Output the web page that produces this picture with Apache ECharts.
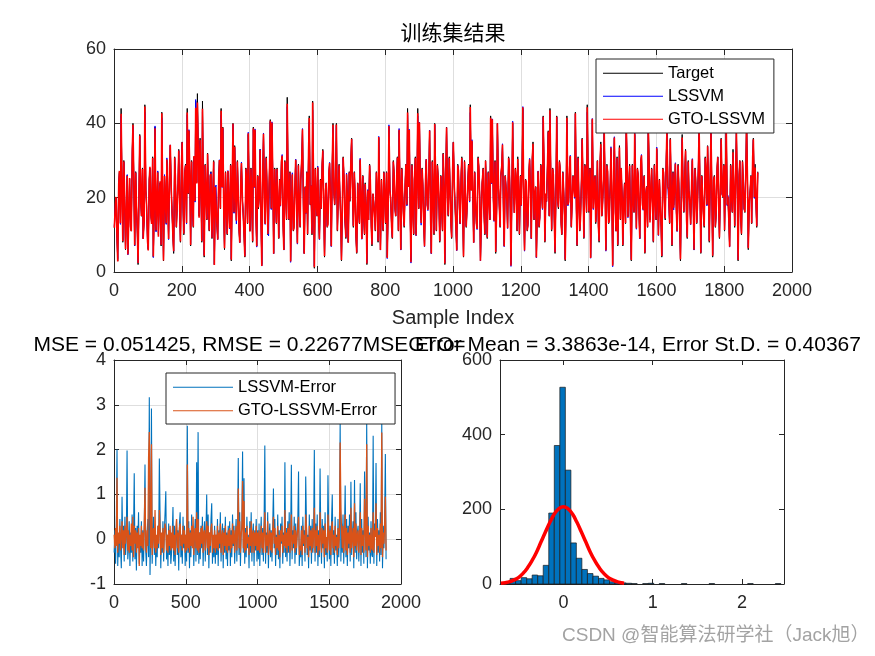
<!DOCTYPE html>
<html><head><meta charset="utf-8">
<script src="https://cdn.jsdelivr.net/npm/echarts@6/dist/echarts.min.js"></script>
<style>html,body{margin:0;padding:0;background:#fff}#c{width:875px;height:656px}</style>
</head><body><div id="c"></div>
<script>
// Main samples are read at indices 1, 6, 11, ... (every sampleStep);
// the *Mid arrays hold the samples read in between, at 4, 9, 14, ...
const sampleStep = 5;
const midOffset = 3;

const target = [
12,20,3,27,44,8,22,14,5,25,11,40,7,19,2,37,15,9,45,18,
6,28,13,4,39,16,10,24,43,3,21,30,9,34,17,5,26,12,33,8,
35,10,29,44,38,7,20,31,46,48,15,25,46,4,22,32,11,27,18,2,
23,9,30,44,39,6,19,27,12,3,40,34,14,22,8,29,16,4,25,37,
11,20,39,38,7,17,33,2,37,13,24,10,41,40,5,21,28,9,18,31,
6,22,47,14,3,26,12,30,8,19,25,38,5,16,10,42,23,46,1,20,
28,9,17,33,4,24,13,29,7,40,18,40,11,22,3,31,15,26,8,19,
36,12,21,5,18,30,9,16,24,2,14,25,7,19,11,22,36,6,17,27,
13,4,39,20,9,27,15,31,38,6,22,12,29,44,38,3,18,25,10,44,
40,14,23,7,30,17,38,5,21,40,11,26,8,19,32,2,39,15,24,9,
35,18,6,27,13,31,4,22,16,29,45,35,8,20,12,28,3,24,17,30,
9,21,42,41,14,5,40,19,26,34,7,23,12,29,2,40,16,25,31,10,
18,44,6,24,13,30,9,35,20,4,27,15,22,42,8,19,38,44,11,26,
5,42,17,28,10,23,3,42,19,31,12,25,43,7,21,14,36,9,27,45,
16,4,41,22,13,30,8,35,18,38,6,27,14,33,2,36,11,7,34,28,
7,24,40,15,29,3,20,37,12,26,9,31,17,5,23,41,14,28,8,21,
33,10,19,4,27,14,38,22,36,7,18,29,11,24,3,37,16,33,9,22,
13,30,6,25,17,39,5,21,12,28,34,8,40,4,26,15,31,9,36,20,
11,40,20,7,22,33,12,38,3,30,10,25,16,42,6,21,13,36,29,12
];
const targetMid = [
18,9,24,13,20,30,6,26,16,12,33,21,27,10,23,19,28,14,22,8,
25,15,31,19,11,27,21,7,17,26,13,18,28,22,9,31,12,24,16,29,
17,27,13,21,25,30,12,19,24,31,36,8,20,29,14,18,26,9,30,23,
12,26,17,23,15,27,10,18,29,25,16,20,30,11,24,19,9,28,13,20,
28,8,23,14,26,21,12,27,19,31,10,29,17,22,28,13,18,25,30,12,
30,14,21,27,19,11,24,17,29,12,31,16,23,27,33,18,10,22,28,15,
13,25,29,16,22,12,27,18,30,21,26,11,29,14,20,24,9,18,27,31,
20,27,9,24,13,19,26,10,17,22,29,12,21,15,27,8,18,25,11,20,
27,19,22,12,30,17,26,11,20,28,15,24,18,23,14,29,10,31,25,17,
21,28,12,25,18,27,14,30,10,24,29,17,26,11,22,27,20,31,13,28,
23,11,29,17,26,15,30,12,25,19,22,18,27,13,31,20,16,28,10,21,
27,14,24,20,30,18,23,12,29,16,26,19,31,17,24,21,28,11,20,26,
29,16,25,11,27,20,31,14,23,18,12,29,17,26,21,30,15,22,28,13,
24,19,30,13,27,15,22,18,28,12,26,20,17,31,11,25,22,29,16,23,
28,21,17,26,19,12,30,15,25,21,29,13,24,18,27,16,31,22,14,20,
19,13,27,24,11,29,16,23,28,15,30,18,26,21,12,27,22,17,29,14,
21,25,12,28,18,30,23,13,20,27,24,16,29,12,26,21,27,14,30,18,
24,17,28,13,29,20,26,15,31,18,22,27,19,25,12,28,17,24,21,29,
27,18,13,29,16,21,27,20,26,14,30,17,28,23,19,26,31,20,18,27
];

const lssvmPred = [
12.3,19.8,3.6,26.7,42,8.6,21.9,14.4,4.6,25.2,11.7,39.1,7.1,18.7,2.5,36.5,15.4,9,43,18.5,
6.2,27.6,13.6,3.9,39.3,15.5,10.5,23.9,41.5,3.5,20.8,30.7,8.7,34.2,16.4,5.6,26,12.3,32.6,8.6,
34.8,10.5,28.7,42.3,38.3,7.6,19.9,30.6,46.4,44.8,15.8,24.7,43.1,4.6,21.9,31.5,11.4,26.8,18.6,2,
23.4,8.7,30.2,42.2,38.5,6.7,18.9,27.3,11.6,3.5,39.8,33.4,12.9,22.5,7.9,29.6,15.7,4.4,24.8,37.6,
11.3,19.9,38.3,38.5,6.7,17.6,33,1.6,37.4,12.8,24.7,9.7,40.4,40.4,4.9,21.6,27.5,9.2,17.7,31.6,
5.9,22.5,44.5,14.3,2.6,26.7,11.8,30.4,7.5,19.2,24.7,38.6,5,15.6,10.5,40.3,23.4,43.6,1.6,19.9,
28.5,8.7,17.2,32.5,4.6,23.9,12.6,29.5,6.8,39,18.4,39.5,11.7,21.9,3.3,30.6,14.2,26.6,8,19.4,
35.7,12.6,20.9,5.4,17.6,30.6,8.8,16.2,23.4,2.5,14,24.7,7.7,18.8,11.3,21.5,36.5,5.9,17.6,26.7,
13.3,3.6,39.6,19.8,9.4,26.5,15.2,30.7,38.6,5.9,21.6,12.5,28.8,42.2,38.4,2.4,18.6,25,9.7,42,
40.3,12.6,23.6,6.8,30.4,16.5,38.2,4.9,21.7,39.6,11.3,25.4,8.5,18.9,31.7,2.6,38.8,15.3,23.6,9.5,
34.8,18.5,5.7,27.6,12.9,30.5,4.4,21.8,16.5,28.6,42.9,35.6,7.9,20.3,11.4,28.7,3,23.7,17.4,29.8,
9.5,20.7,40.9,41.2,13.6,5.6,39.9,19.4,25.5,34.5,6.8,23.7,11.7,29.1,1.5,40.6,15.9,25.3,29.3,10.4,
17.8,44.5,5.6,24.3,12.4,30.6,8.9,33.3,20.5,3.8,27.2,14.5,22.6,41.7,8.4,18.9,37.6,42.5,11.6,26.3,
5.4,41.7,17.6,27.5,10.2,22.8,3.5,40.6,18.6,31.4,11.9,25.7,42.5,7.3,20.7,14.6,35.6,9.3,26.9,43,
16.5,3.7,41.3,21.5,13.6,29.8,8.4,33.4,17.9,38.6,5.6,27.2,13.7,33.7,1.4,36.4,11,7.5,32.6,27.8,
7.5,23.7,40.6,14.6,28,3.4,19.8,37.6,11.5,26.3,8.9,31.6,16.6,5.4,22.9,38.4,14.5,27.7,8.3,20.5,
33.6,9.8,17.8,4.4,26.6,14.6,37.7,22.2,35.5,7.5,16.7,29.4,10.9,23.6,3.7,35.7,16.3,32.4,9.5,21.9,
12.7,30.5,5.9,23.8,17.6,38.6,5.3,20.8,12.6,26.5,33.7,8.4,37.4,4.7,25.5,15.3,30.9,9.6,35.6,20.4,
11.4,37.7,20.6,6.7,21.9,31.3,12.6,37.6,3.3,29.8,10.5,24.4,16.4,39.4,6.7,20.7,13.2,35.5,27.1,12.5
];
const lssvmPredMid = [
18.4,8.6,24.3,12.8,20.3,29.6,6.4,26.2,15.7,12.4,32.6,21.3,26.7,10.4,22.8,19.2,27.6,14.3,21.7,8.4,
24.7,15.3,30.6,19.3,10.8,27.2,20.7,7.5,16.8,26.2,12.8,18.3,27.6,22.2,9.4,30.6,12.3,23.7,16.3,28.6,
16.8,27.2,12.9,21.3,24.7,29.6,12.4,18.8,24.2,30.6,35.3,8.5,19.8,28.7,14.3,17.8,26.2,9.4,29.6,22.7,
12.4,25.7,17.3,22.7,15.3,26.6,10.4,17.8,28.6,25.2,15.8,20.3,29.6,11.4,23.7,19.3,9.4,27.6,13.3,19.8,
27.6,8.5,22.7,14.4,25.7,21.2,12.4,26.6,19.3,30.6,10.4,28.7,16.8,22.2,27.6,13.4,17.8,24.7,29.6,12.4,
29.6,14.3,21.2,26.6,18.8,11.4,23.7,17.3,28.6,12.4,30.6,15.8,22.7,26.7,32.5,18.3,10.5,21.7,27.6,15.3,
13.4,24.7,28.6,16.3,21.7,12.4,26.6,17.8,29.6,21.2,25.7,11.4,28.6,14.3,19.8,24.2,9.5,17.8,26.7,30.6,
19.8,26.7,9.4,23.7,13.3,18.8,25.7,10.4,16.8,22.2,28.6,12.4,20.8,15.3,26.7,8.5,17.8,24.7,11.4,19.8,
26.7,18.8,22.2,12.4,29.6,16.8,25.7,11.4,19.8,27.6,15.3,23.7,17.8,23.2,14.3,28.6,10.4,30.6,24.7,17.3,
20.8,27.6,12.4,24.7,17.8,26.7,14.3,29.6,10.5,23.7,28.6,16.8,25.7,11.4,21.7,26.7,19.8,30.6,13.4,27.6,
22.7,11.4,28.6,16.8,25.7,15.3,29.6,12.4,24.7,18.8,22.2,17.8,26.7,13.3,30.6,19.8,16.3,27.6,10.4,20.8,
26.7,14.3,23.7,19.8,29.6,17.8,22.7,12.4,28.6,16.3,25.7,18.8,30.6,16.8,23.7,20.8,27.6,11.4,19.8,25.7,
28.6,16.3,24.7,11.4,26.7,19.8,30.6,14.3,22.7,17.8,12.4,28.7,16.8,25.7,20.8,29.6,15.3,21.7,27.6,13.4,
23.7,18.8,29.6,13.4,26.7,15.3,21.7,17.8,27.6,12.4,25.7,19.8,16.8,30.6,11.4,24.7,21.7,28.6,16.3,22.7,
27.6,20.8,16.8,25.7,18.8,12.4,29.6,15.3,24.7,21.2,28.6,13.4,23.7,17.8,26.7,16.3,30.6,21.7,14.3,19.8,
18.8,13.4,26.7,23.7,11.4,28.6,16.3,22.7,27.6,15.3,29.6,17.8,25.7,21.2,12.4,26.7,21.7,16.8,28.6,14.3,
20.8,24.7,12.4,27.6,17.8,29.6,22.7,13.4,19.8,26.7,23.7,16.3,28.6,12.4,25.7,20.8,26.7,14.3,29.6,17.8,
23.7,16.8,27.6,13.4,28.6,19.8,25.7,15.3,30.6,17.8,22.2,26.7,18.8,24.7,12.4,27.6,16.8,23.7,20.8,28.6,
26.7,17.8,13.4,28.6,16.3,20.8,26.7,19.8,25.7,14.3,29.6,16.8,27.6,22.7,18.8,25.7,30.6,19.8,17.8,26.7
];

const gtoLssvmPred = [
11.9,20.2,2.8,27.2,42.6,8.3,21.9,14.1,4.7,25.3,11,39.6,7.2,18.8,2.4,36.7,15.1,8.9,44.5,18.3,
5.8,28.3,12.9,4.2,38.7,16.3,9.5,24.4,42.7,3.1,20.8,30.3,8.9,34.2,16.8,5.6,25.9,12.2,32.7,8.2,
34.9,10.3,28.7,42.9,38.1,7.3,19.8,31.2,44.2,45.6,14.6,25.2,43.9,4.4,21.9,31.8,11.2,26.4,18.3,1.9,
23.2,8.7,30.1,43.4,38.8,6.4,18.9,27.2,11.8,3.3,39.9,33.7,13.8,22.3,7.9,29.3,15.8,4.2,24.7,37.3,
10.9,20.2,38.7,38.3,6.9,17.4,32.8,1.6,37.2,12.9,24.3,9.8,40.7,40.2,4.9,21.3,27.7,9.1,17.8,31.3,
5.9,22.3,45.3,14.2,2.8,26.3,11.9,30.2,7.7,19.2,24.5,38.4,4.9,15.8,10.2,41.4,23.3,45.6,1.3,19.9,
28.2,8.8,17.1,32.7,4.3,23.9,12.8,29.3,6.9,39.6,18.2,39.7,11.4,21.9,3.2,30.8,14.7,26.3,7.9,19.2,
35.8,12.3,20.9,5.2,17.7,30.3,8.9,16.1,23.7,2.3,14,24.8,7.4,18.9,11.2,21.7,36.3,5.9,17.3,26.8,
13.2,3.8,39.3,19.9,9.2,26.7,15.1,30.8,38.3,6,21.7,12.3,28.9,42.9,38.2,2.6,18.3,24.9,9.8,42.7,
40.2,13.2,23.3,6.9,30.3,16.7,38.1,5,21.4,39.8,11.2,25.6,8.3,18.9,31.8,2.3,38.9,15.2,23.7,9.3,
34.9,18.3,5.8,27.3,13,30.7,4.2,21.9,16.3,28.8,44.4,35.3,7.9,20.2,11.6,28.4,3,23.8,17.3,29.9,
9.3,20.8,41.5,41.1,13.8,5.4,40,19.2,25.7,34.3,6.9,23.4,11.8,29.1,1.7,40.3,15.9,25.2,30.4,10.2,
17.9,44.3,5.8,24.2,12.7,30.3,9,34.5,20.3,3.9,27.1,14.7,22.3,41.8,8.2,19,37.8,43.5,11.4,26.2,
5.3,41.8,17.4,27.7,10.1,22.9,3.3,41.5,18.8,31.2,12,25.4,42.7,7.2,20.8,14.3,35.8,9.2,26.9,44.3,
16.3,3.8,41.2,21.7,13.4,29.9,8.3,34.4,18,38.3,5.8,27.1,13.8,33.4,1.7,36.2,11,7.3,33.5,27.9,
7.3,23.8,40.4,14.8,28.6,3.2,19.9,37.3,11.7,26.2,9,31.4,16.8,5.2,22.9,38.8,13.3,27.8,8.2,20.7,
33.3,9.9,18.5,4.3,26.8,14.4,37.9,22.1,35.7,7.3,17.3,29.2,11,23.8,3.4,36.2,16.2,32.7,9.3,21.9,
12.8,30.3,6,24.4,17.4,38.8,5.2,20.9,12.3,27.1,33.8,8.3,37.9,4.4,25.7,15.2,30.9,9.3,35.8,20.2,
11.3,39.4,20.3,6.8,22,32.2,12.4,37.8,3.2,29.9,10.3,24.7,16.2,39.6,6.4,20.9,13.1,35.7,28.1,12.3
];
const gtoLssvmPredMid = [
18.2,8.9,23.8,13.1,20.2,29.7,6.2,25.9,16.1,12.2,32.8,21.1,26.8,10.2,23.1,18.9,27.7,14.1,21.9,8.2,
24.8,15.1,30.7,19.1,11.2,26.8,20.9,7.3,17.1,25.8,13.1,18.1,27.8,21.9,9.2,30.8,12.1,23.9,16.1,28.7,
17.1,26.8,13.2,21.1,24.8,29.7,12.2,19.1,23.8,30.7,35.5,8.3,20.1,28.8,14.1,18.1,25.8,9.2,29.7,22.9,
12.2,25.8,17.1,22.9,15.1,26.8,10.2,18.1,28.7,24.8,16.1,20.1,29.7,11.2,23.9,19.1,9.2,27.8,13.1,20.1,
27.8,8.3,22.9,14.2,25.8,20.9,12.2,26.8,19.1,30.7,10.2,28.8,17.1,21.9,27.7,13.2,18.1,24.8,29.7,12.2,
29.7,14.1,20.9,26.8,19.1,11.2,23.9,17.1,28.7,12.2,30.7,16.1,22.9,26.8,32.6,18.1,10.3,21.9,27.8,15.1,
13.2,24.8,28.8,16.1,21.9,12.2,26.8,18.1,29.7,20.9,25.9,11.2,28.7,14.1,20.1,23.8,9.3,18.1,26.8,30.7,
20.1,26.8,9.2,23.9,13.1,19.1,25.8,10.2,17.1,21.9,28.7,12.2,21.1,15.1,26.8,8.3,18.1,24.8,11.2,20.1,
26.8,19.1,21.9,12.2,29.7,17.1,25.8,11.2,20.1,27.8,15.1,23.9,18.1,22.9,14.1,28.7,10.2,30.7,24.8,17.1,
21.1,27.8,12.2,24.8,18.1,26.8,14.1,29.7,10.3,23.9,28.7,17.1,25.8,11.2,21.9,26.8,20.1,30.7,13.2,27.8,
22.9,11.2,28.7,17.1,25.8,15.1,29.7,12.2,24.8,19.1,21.9,18.1,26.8,13.1,30.7,20.1,16.1,27.8,10.2,21.1,
26.8,14.1,23.9,20.1,29.7,18.1,22.9,12.2,28.7,16.1,25.8,19.1,30.7,17.1,23.9,21.1,27.8,11.2,20.1,25.8,
28.7,16.1,24.8,11.2,26.8,20.1,30.7,14.1,22.9,18.1,12.2,28.8,17.1,25.8,21.1,29.7,15.1,21.9,27.8,13.2,
23.9,19.1,29.7,13.2,26.8,15.1,21.9,18.1,27.8,12.2,25.8,20.1,17.1,30.7,11.2,24.8,21.9,28.7,16.1,22.9,
27.8,21.1,17.1,25.8,19.1,12.2,29.7,15.1,24.8,20.9,28.7,13.2,23.9,18.1,26.8,16.1,30.7,21.9,14.1,20.1,
19.1,13.2,26.8,23.9,11.2,28.7,16.1,22.9,27.8,15.1,29.7,18.1,25.8,20.9,12.2,26.8,21.9,17.1,28.7,14.1,
21.1,24.8,12.2,27.8,18.1,29.7,22.9,13.2,20.1,26.8,23.9,16.1,28.7,12.2,25.8,21.1,26.8,14.1,29.7,18.1,
23.9,17.1,27.8,13.2,28.7,20.1,25.8,15.1,30.7,18.1,21.9,26.8,19.1,24.8,12.2,27.8,17.1,23.9,21.1,28.7,
26.8,18.1,13.2,28.7,16.1,21.1,26.8,20.1,25.8,14.1,29.7,17.1,27.8,22.9,19.1,25.8,30.7,20.1,18.1,26.8
];

const lssvmError = [
-0.3,0.2,-0.55,0.35,2.0,-0.6,0.1,-0.4,0.45,-0.2,-0.65,0.95,-0.1,0.3,-0.5,0.5,-0.35,0.05,1.98,-0.45,
-0.2,0.4,-0.6,0.15,-0.3,0.55,-0.5,0.1,1.47,-0.45,0.25,-0.7,0.3,-0.15,0.6,-0.55,0.05,-0.3,0.4,-0.6,
0.2,-0.5,0.35,1.67,-0.25,-0.6,0.15,0.45,-0.4,3.17,-0.8,0.3,2.92,-0.55,0.1,0.5,-0.35,0.25,-0.6,0.05,
-0.4,0.3,-0.2,1.8,0.55,-0.65,0.1,-0.3,0.4,-0.5,0.2,0.6,1.07,-0.45,0.1,-0.6,0.35,-0.35,0.2,-0.55,
-0.3,0.15,0.72,-0.5,0.3,-0.6,0.05,0.45,-0.35,0.2,-0.7,0.35,0.6,-0.4,0.1,-0.55,0.5,-0.2,0.3,-0.6,
0.1,-0.5,2.53,-0.3,0.4,-0.65,0.2,-0.4,0.55,-0.15,0.3,-0.6,0.05,0.45,-0.5,1.72,-0.35,2.39,-0.55,0.15,
-0.45,0.3,-0.2,0.5,-0.6,0.1,0.4,-0.5,0.2,1.0,-0.35,0.55,-0.65,0.15,-0.3,0.45,0.8,-0.55,0.05,-0.4,
0.3,-0.55,0.1,-0.35,0.45,-0.6,0.2,-0.2,0.6,-0.5,0.05,0.35,-0.65,0.25,-0.3,0.5,-0.45,0.15,-0.6,0.3,
-0.25,0.4,-0.6,0.2,-0.4,0.55,-0.15,0.3,-0.55,0.1,0.45,-0.5,0.2,1.81,-0.35,0.6,-0.6,0.05,0.35,1.96,
-0.3,1.36,-0.55,0.25,-0.4,0.5,-0.2,0.1,-0.65,0.4,-0.3,0.6,-0.5,0.15,0.35,-0.6,0.2,-0.25,0.45,-0.5,
0.2,-0.45,0.35,-0.6,0.1,0.5,-0.35,0.25,-0.5,0.4,2.09,-0.55,0.15,-0.3,0.6,-0.65,0.05,0.35,-0.4,0.2,
-0.5,0.3,1.13,-0.2,0.45,-0.6,0.1,-0.35,0.55,-0.45,0.2,-0.65,0.35,-0.1,0.5,-0.55,0.15,-0.3,1.72,-0.4,
0.25,-0.5,0.4,-0.3,0.6,-0.6,0.1,1.66,-0.45,0.2,-0.2,0.5,-0.55,0.35,-0.35,0.1,0.45,1.51,-0.6,-0.25,
-0.4,0.3,-0.6,0.5,-0.15,0.2,-0.5,1.4,0.4,-0.35,0.1,-0.65,0.55,-0.25,0.3,-0.55,0.45,-0.3,0.15,1.99,
-0.5,0.35,-0.3,0.55,-0.6,0.2,-0.4,1.58,0.1,-0.55,0.45,-0.2,0.3,-0.65,0.6,-0.35,0.05,-0.5,1.43,0.25,
-0.45,0.3,-0.6,0.4,1.0,-0.35,0.2,-0.55,0.5,-0.25,0.1,-0.6,0.45,-0.4,0.15,2.63,-0.5,0.35,-0.3,0.55,
-0.55,0.2,1.2,-0.4,0.45,-0.6,0.3,-0.2,0.55,-0.5,1.28,-0.35,0.1,0.4,-0.65,1.32,-0.3,0.6,-0.45,0.15,
0.3,-0.5,0.1,1.25,-0.6,0.45,-0.3,0.2,-0.55,1.51,0.35,-0.4,2.63,-0.65,0.5,-0.25,0.15,-0.55,0.4,-0.35,
-0.4,2.31,-0.55,0.35,0.1,1.7,-0.6,0.45,-0.3,0.2,-0.5,0.6,-0.35,2.63,-0.65,0.3,-0.2,0.5,1.9,-0.45
];

const gtoLssvmError = [
0.1,-0.2,0.25,-0.15,1.37,-0.3,0.15,-0.1,0.3,-0.25,0.05,0.4,-0.2,0.2,-0.35,0.3,-0.1,0.15,0.5,-0.25,
0.2,-0.3,0.1,-0.15,0.35,-0.25,0.5,-0.4,0.3,-0.1,0.2,-0.3,0.15,-0.2,0.25,-0.6,0.1,-0.15,0.3,-0.2,
0.15,-0.25,0.3,1.15,-0.1,-0.3,0.2,-0.15,1.82,2.39,0.4,-0.2,2.12,-0.35,0.15,0.25,-0.2,0.65,-0.3,0.1,
-0.2,0.3,-0.1,0.65,0.2,-0.35,0.15,-0.2,0.25,-0.3,0.1,0.35,0.2,-0.25,0.1,-0.3,0.2,-0.15,0.3,-0.25,
0.15,-0.2,0.3,-0.25,0.1,-0.35,0.2,0.45,-0.2,0.15,-0.3,0.25,0.35,-0.15,0.1,-0.25,0.3,-0.1,0.2,-0.3,
0.1,-0.25,1.67,-0.2,0.25,-0.3,0.15,-0.15,0.3,-0.2,0.5,-0.35,0.1,0.25,-0.2,0.6,-0.25,0.45,-0.3,0.15,
-0.2,0.25,-0.1,0.3,-0.3,0.15,0.2,-0.25,0.1,0.4,-0.2,0.3,-0.35,0.15,-0.15,0.25,0.35,-0.3,0.1,-0.2,
0.2,-0.3,0.1,-0.2,0.3,-0.25,0.15,-0.1,0.35,-0.3,0.05,0.2,-0.35,0.15,-0.15,0.3,-0.25,0.1,-0.3,0.2,
-0.15,0.25,-0.3,0.1,-0.2,0.35,-0.1,0.2,-0.3,0.05,0.3,-0.25,0.15,1.13,-0.2,0.4,-0.3,0.1,0.25,1.3,
-0.2,0.85,-0.3,0.15,-0.25,0.3,-0.1,0.05,-0.35,0.25,-0.15,0.4,-0.3,0.1,0.2,-0.3,0.15,-0.15,0.3,-0.25,
0.15,-0.25,0.2,-0.3,0.05,0.3,-0.2,0.15,-0.3,0.25,0.6,-0.3,0.1,-0.15,0.4,-0.35,0.05,0.2,-0.25,0.15,
-0.3,0.2,0.5,-0.1,0.25,-0.35,0.05,-0.2,0.3,-0.25,0.1,-0.4,0.2,-0.05,0.3,-0.3,0.1,-0.15,0.65,-0.2,
0.15,-0.3,0.25,-0.15,0.35,-0.3,0.05,0.55,-0.25,0.1,-0.1,0.3,-0.3,0.2,-0.2,0.05,0.25,0.5,-0.35,-0.15,
-0.25,0.2,-0.35,0.3,-0.1,0.1,-0.3,0.55,0.25,-0.2,0.05,-0.4,0.3,-0.15,0.2,-0.3,0.25,-0.2,0.1,0.7,
-0.3,0.2,-0.15,0.3,-0.35,0.1,-0.25,0.6,0.05,-0.3,0.25,-0.1,0.2,-0.4,0.35,-0.2,0.05,-0.3,0.55,0.15,
-0.25,0.2,-0.35,0.25,0.4,-0.2,0.1,-0.3,0.3,-0.15,0.05,-0.35,0.25,-0.2,0.1,2.16,0.7,0.2,-0.2,0.3,
-0.3,0.1,0.55,-0.25,0.25,-0.35,0.15,-0.1,0.3,-0.3,0.7,-0.2,0.05,0.25,-0.4,0.8,-0.15,0.35,-0.25,0.1,
0.2,-0.3,0.05,0.6,-0.35,0.25,-0.15,0.1,-0.3,0.9,0.2,-0.25,2.12,-0.4,0.3,-0.15,0.1,-0.3,0.25,-0.2,
-0.25,0.6,-0.3,0.2,0.05,0.8,-0.35,0.25,-0.15,0.1,-0.3,0.35,-0.2,2.38,-0.4,0.15,-0.1,0.3,0.95,-0.25
];

// Histogram of the error: bin left edges, common bin width, counts
const histBinWidth = 0.0619;
const histBinLeft = [-0.659,-0.597,-0.535,-0.473,-0.411,-0.350,-0.288,-0.226,-0.164,-0.102,-0.040,0.022,0.083,0.145,0.207,0.269,0.331,0.393,0.455,0.516,0.578,0.640,0.702,0.764,0.888,0.950,1.073,1.321,1.631,2.063,2.373];
const histCount   = [3,15,9,17,14,24,22,50,190,371,527,305,110,69,39,28,21,15,11,6,4,3,2,1,1,2,1,1,1,1,1];

// Fitted normal curve
const curveX = [-0.70,-0.65,-0.60,-0.55,-0.50,-0.45,-0.40,-0.35,-0.30,-0.25,-0.20,-0.15,-0.10,-0.05,0,0.05,0.10,0.15,0.20,0.25,0.30,0.35,0.40,0.45,0.50,0.55,0.60,0.65,0.68];
const curveY = [1.8,3.4,6.3,11,18,29,44,63,86,113,140,166,188,202,207,202,188,166,140,113,86,63,44,29,18,11,6.3,3.4,2.2];

// Tick labels
const topXTicks = {min:0, max:2000, interval:200};
const topYTicks = {min:0, max:60, interval:20};
const errXTicks = {min:0, max:2000, interval:500};
const errYTicks = {min:-1, max:4, interval:1};
const histXLabels = [0, 1, 2];
const histYTicks = {min:0, max:600, interval:200};

const titleTop = '训练集结果';
const titleErr = 'MSE = 0.051425, RMSE = 0.22677MSEGTO=';
const titleHist = 'Error Mean = 3.3863e-14, Error St.D. = 0.40367';
const watermark = 'CSDN @智能算法研学社（Jack旭）';

const FONT = "'Liberation Sans', Arial, 'Noto Sans CJK SC', sans-serif";
const AX = '#262626';
const GRIDC = '#dedede';

function withIndex(arr) { return arr.map((v, i) => [1 + i * sampleStep, v]); }
function withMid(main, mid) {
  const out = [];
  for (let i = 0; i < main.length; i++) {
    out.push([1 + i * sampleStep, main[i]]);
    if (i < mid.length) out.push([1 + i * sampleStep + midOffset, mid[i]]);
  }
  return out;
}

function axis(o) {
  const a = {
    type: 'value',
    gridIndex: o.grid,
    position: o.pos,
    min: o.min, max: o.max,
    axisLine: {show: true, onZero: false, lineStyle: {color: AX, width: 1}},
    axisTick: {show: true, inside: true, length: o.tick || 6, lineStyle: {color: AX, width: 1}},
    axisLabel: {show: !!o.labels, color: AX, fontSize: 18, fontFamily: FONT, margin: o.margin || 9,
                formatter: function (v) { return String(v); }},
    splitLine: {show: !!o.split, lineStyle: {color: GRIDC, width: 1}}
  };
  if (o.interval !== undefined) a.interval = o.interval;
  if (o.custom) { a.axisTick.customValues = o.custom; a.axisLabel.customValues = o.custom; }
  if (o.name) {
    a.name = o.name; a.nameLocation = 'middle'; a.nameGap = o.nameGap;
    a.nameTextStyle = {fontSize: 20, color: AX, fontFamily: FONT};
  }
  return a;
}

const chart = echarts.init(document.getElementById('c'), null, {renderer: 'canvas'});

const legendCommon = {
  orient: 'vertical', itemWidth: 60, itemHeight: 16,
  icon: 'path://M0,0H60V1H0Z',
  itemStyle: {borderWidth: 0},
  textStyle: {fontSize: 16.5, color: '#000', fontFamily: FONT, lineHeight: 16},
  backgroundColor: '#fff', borderColor: AX, borderWidth: 1, borderRadius: 0,
  selectedMode: false
};

chart.setOption({
  animation: false,
  backgroundColor: '#fff',
  title: [
    {text: titleTop, left: 453, top: 24, textAlign: 'center', padding: 0,
     textStyle: {fontSize: 21, fontWeight: 'normal', color: '#000', fontFamily: FONT}},
    {text: titleErr, left: 249.5, top: 335, textAlign: 'center', padding: 0,
     textStyle: {fontSize: 21, fontWeight: 'normal', color: '#000', fontFamily: FONT}},
    {text: titleHist, left: 638, top: 335, textAlign: 'center', padding: 0,
     textStyle: {fontSize: 21, fontWeight: 'normal', color: '#000', fontFamily: FONT}}
  ],
  legend: [
    Object.assign({}, legendCommon, {data: ['Target', 'LSSVM', 'GTO-LSSVM'], left: 596, top: 59, padding: [6, 9, 5.5, 7], itemGap: 6.5}),
    Object.assign({}, legendCommon, {data: ['LSSVM-Error', 'GTO-LSSVM-Error'], left: 166, top: 373, padding: [6, 18, 5, 7], itemGap: 7})
  ],
  grid: [
    {left: 114, top: 49, width: 678, height: 223},
    {left: 114, top: 360, width: 287, height: 224},
    {left: 500, top: 360, width: 284, height: 224}
  ],
  xAxis: [
    axis({grid: 0, pos: 'bottom', min: topXTicks.min, max: topXTicks.max, interval: topXTicks.interval, labels: true, split: true, margin: 10, name: 'Sample Index', nameGap: 36}),
    axis({grid: 0, pos: 'top', min: topXTicks.min, max: topXTicks.max, interval: topXTicks.interval}),
    axis({grid: 1, pos: 'bottom', min: errXTicks.min, max: errXTicks.max, interval: errXTicks.interval, labels: true, split: true, margin: 10, tick: 5}),
    axis({grid: 1, pos: 'top', min: errXTicks.min, max: errXTicks.max, interval: errXTicks.interval, tick: 5}),
    axis({grid: 2, pos: 'bottom', min: -0.71, max: 2.47, custom: histXLabels, labels: true, margin: 10, tick: 5}),
    axis({grid: 2, pos: 'top', min: -0.71, max: 2.47, custom: histXLabels, tick: 5})
  ],
  yAxis: [
    axis({grid: 0, pos: 'left', min: topYTicks.min, max: topYTicks.max, interval: topYTicks.interval, labels: true, split: true, margin: 8}),
    axis({grid: 0, pos: 'right', min: topYTicks.min, max: topYTicks.max, interval: topYTicks.interval}),
    axis({grid: 1, pos: 'left', min: errYTicks.min, max: errYTicks.max, interval: errYTicks.interval, labels: true, split: true, margin: 8, tick: 5}),
    axis({grid: 1, pos: 'right', min: errYTicks.min, max: errYTicks.max, interval: errYTicks.interval, tick: 5}),
    axis({grid: 2, pos: 'left', min: histYTicks.min, max: histYTicks.max, interval: histYTicks.interval, labels: true, margin: 8, tick: 5}),
    axis({grid: 2, pos: 'right', min: histYTicks.min, max: histYTicks.max, interval: histYTicks.interval, tick: 5})
  ],
  series: [
    {type: 'line', name: 'Target', xAxisIndex: 0, yAxisIndex: 0, data: withMid(target, targetMid), symbol: 'none',
     lineStyle: {color: '#000000', width: 1}, itemStyle: {color: '#000000'}, silent: true},
    {type: 'line', name: 'LSSVM', xAxisIndex: 0, yAxisIndex: 0, data: withMid(lssvmPred, lssvmPredMid), symbol: 'none',
     lineStyle: {color: '#0000ff', width: 1}, itemStyle: {color: '#0000ff'}, silent: true},
    {type: 'line', name: 'GTO-LSSVM', xAxisIndex: 0, yAxisIndex: 0, data: withMid(gtoLssvmPred, gtoLssvmPredMid), symbol: 'none',
     lineStyle: {color: '#ff0000', width: 1.6}, itemStyle: {color: '#ff0000'}, silent: true},
    {type: 'line', name: 'LSSVM-Error', xAxisIndex: 2, yAxisIndex: 2, data: withIndex(lssvmError), symbol: 'none',
     lineStyle: {color: '#0072BD', width: 1.1}, itemStyle: {color: '#0072BD'}, silent: true},
    {type: 'line', name: 'GTO-LSSVM-Error', xAxisIndex: 2, yAxisIndex: 2, data: withIndex(gtoLssvmError), symbol: 'none',
     lineStyle: {color: '#D95319', width: 1.3}, itemStyle: {color: '#D95319'}, silent: true},
    {type: 'custom', name: 'hist', xAxisIndex: 4, yAxisIndex: 4, silent: true, z: 2,
     data: histBinLeft.map((l, i) => [l, l + histBinWidth, histCount[i]]),
     encode: {x: [0, 1], y: 2},
     renderItem: function (params, api) {
       const p0 = api.coord([api.value(0), api.value(2)]);
       const p1 = api.coord([api.value(1), 0]);
       return {type: 'rect', shape: {x: p0[0], y: p0[1], width: p1[0] - p0[0], height: p1[1] - p0[1]},
               style: {fill: '#0072BD', stroke: '#1a1a1a', lineWidth: 0.7}};
     }},
    {type: 'line', name: 'fit', xAxisIndex: 4, yAxisIndex: 4, z: 3, silent: true,
     data: curveX.map((x, i) => [x, curveY[i]]), smooth: true, symbol: 'none',
     lineStyle: {color: '#ff0000', width: 3.5}}
  ],
  graphic: [
    {type: 'text', left: 562, top: 626, silent: true,
     style: {text: watermark, fontSize: 19, fill: '#a3a3a3', fontFamily: FONT}}
  ]
});
</script>
</body></html>
